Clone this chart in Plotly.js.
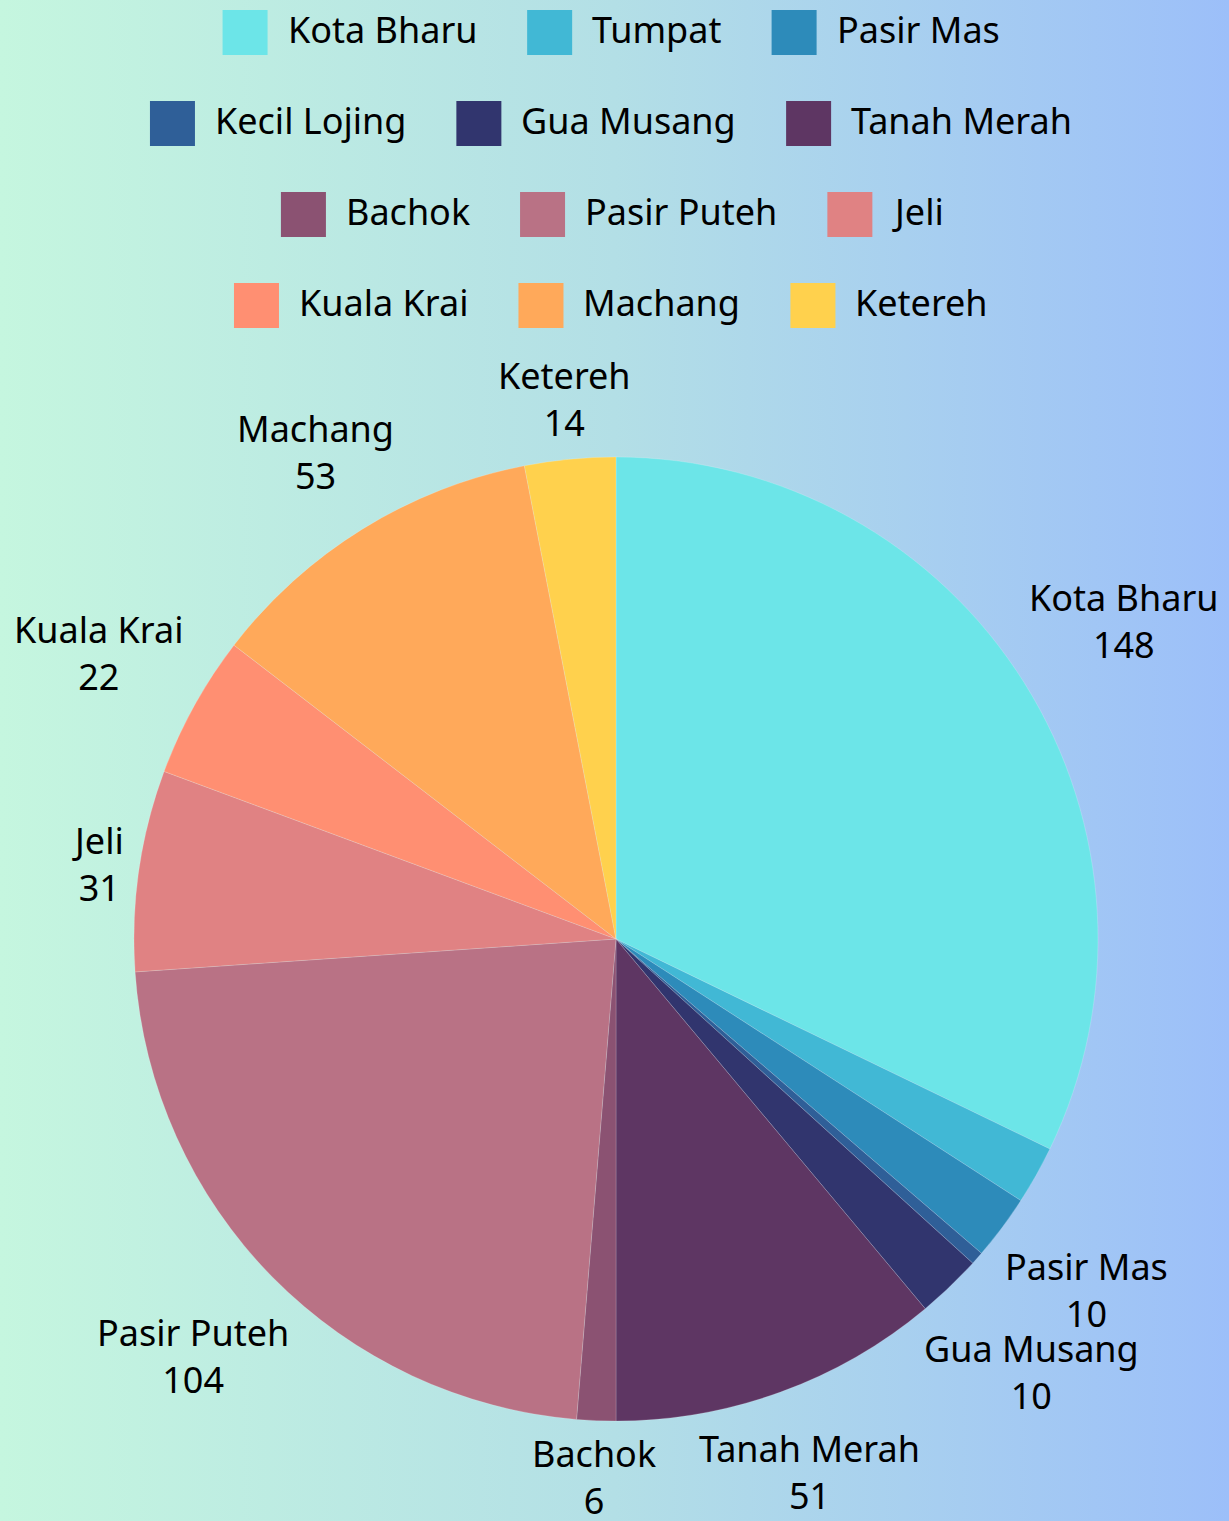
<!DOCTYPE html>
<html>
<head>
<meta charset="utf-8">
<script src="https://cdn.plot.ly/plotly-3.0.1.min.js"></script>
<style>
  html, body { margin: 0; padding: 0; }
  body {
    width: 1229px; height: 1521px; overflow: hidden;
    background: linear-gradient(to right, #c5f6df 0%, #b3dfe6 50%, #9cbff9 100%);
  }
  #chart { width: 1229px; height: 1521px; }
</style>
</head>
<body>
<div id="chart"></div>
<script>
// ---- data ----
const categories = ['Kota Bharu', 'Tumpat', 'Pasir Mas', 'Kecil Lojing', 'Gua Musang', 'Tanah Merah',
                    'Bachok', 'Pasir Puteh', 'Jeli', 'Kuala Krai', 'Machang', 'Ketereh'];
const counts = [148, 9, 10, 2, 10, 51, 6, 104, 31, 22, 53, 14];
const sliceColors = ['#6ce5e8', '#41b8d5', '#2d8bba', '#2f5f98', '#31356e', '#5e3663',
                     '#8b5272', '#b97285', '#e08283', '#ff8f72', '#ffa95a', '#ffd14d'];
const unlabeled = ['Tumpat', 'Kecil Lojing'];

// ---- style / layout constants ----
const W = 1229, H = 1521;
const FONT = '"Noto Sans", sans-serif';
const FS = 36;
const SW = 45, TXTGAP = 18, ITEMGAP = 52, PERROW = 3, ROW0 = 10, ROWPITCH = 91, LCX = 610;
const PCX = 616, PCY = 939, PR = 482, LABELGAP = 13;

const cv = document.createElement('canvas').getContext('2d');
cv.font = FS + 'px ' + FONT;

const shapes = [], annotations = [];

// custom legend built from the category / colour arrays
for (let r = 0; r * PERROW < categories.length; r++) {
  const idx = [];
  for (let k = r * PERROW; k < Math.min((r + 1) * PERROW, categories.length); k++) idx.push(k);
  const widths = idx.map(k => cv.measureText(categories[k]).width);
  const rowW = widths.reduce((a, w) => a + SW + TXTGAP + w, 0) + ITEMGAP * (idx.length - 1);
  let x = LCX - rowW / 2;
  const top = ROW0 + r * ROWPITCH;
  idx.forEach((k, j) => {
    shapes.push({type: 'rect', xref: 'paper', yref: 'paper',
      x0: x / W, x1: (x + SW) / W, y0: 1 - (top + SW) / H, y1: 1 - top / H,
      fillcolor: sliceColors[k], line: {width: 0}});
    annotations.push({xref: 'paper', yref: 'paper', x: (x + SW + TXTGAP) / W, y: 1 - (top + SW / 2) / H,
      xanchor: 'left', yanchor: 'middle', yshift: 3, showarrow: false, text: categories[k],
      font: {family: FONT, size: FS, color: '#000'}});
    x += SW + TXTGAP + widths[j] + ITEMGAP;
  });
}

// outside slice labels: each label box sits on its slice's mid-angle ray,
// its nearest corner just outside the rim
const total = counts.reduce((a, b) => a + b, 0);
let cum = 0;
categories.forEach((c, i) => {
  const mid = (cum + counts[i] / 2) / total * 2 * Math.PI;
  cum += counts[i];
  if (unlabeled.includes(c)) return;
  const lines = [c, String(counts[i])];
  const w = Math.max(...lines.map(s => cv.measureText(s).width));
  const h = 2 * FS * 1.25;
  const ux = Math.sin(mid), uy = -Math.cos(mid);
  const kx = -Math.sign(ux) * w / 2, ky = -Math.sign(uy) * h / 2;
  const R = PR + LABELGAP;
  const uk = ux * kx + uy * ky;
  const t = -uk + Math.sqrt(uk * uk - (kx * kx + ky * ky) + R * R);
  const px = PCX + t * ux, py = PCY + t * uy;
  annotations.push({xref: 'paper', yref: 'paper', x: px / W, y: 1 - py / H,
    xanchor: 'center', yanchor: 'middle', showarrow: false, align: 'center',
    text: lines.join('<br>'), font: {family: FONT, size: FS, color: '#000'}});
});

const trace = {
  type: 'pie',
  labels: categories,
  values: counts,
  textinfo: 'none',
  sort: false,
  direction: 'clockwise',
  rotation: 0,
  marker: {colors: sliceColors, line: {color: 'rgba(255,255,255,0.35)', width: 0.5}},
  domain: {x: [(PCX - PR) / W, (PCX + PR) / W], y: [(H - PCY - PR) / H, (H - PCY + PR) / H]},
  hoverinfo: 'label+value'
};

const layout = {
  width: W, height: H,
  margin: {l: 0, r: 0, t: 0, b: 0},
  paper_bgcolor: 'rgba(0,0,0,0)',
  plot_bgcolor: 'rgba(0,0,0,0)',
  showlegend: false,
  font: {family: FONT, size: FS, color: '#000'},
  shapes: shapes,
  annotations: annotations
};

Plotly.newPlot('chart', [trace], layout, {displayModeBar: false, staticPlot: true});
</script>
</body>
</html>
